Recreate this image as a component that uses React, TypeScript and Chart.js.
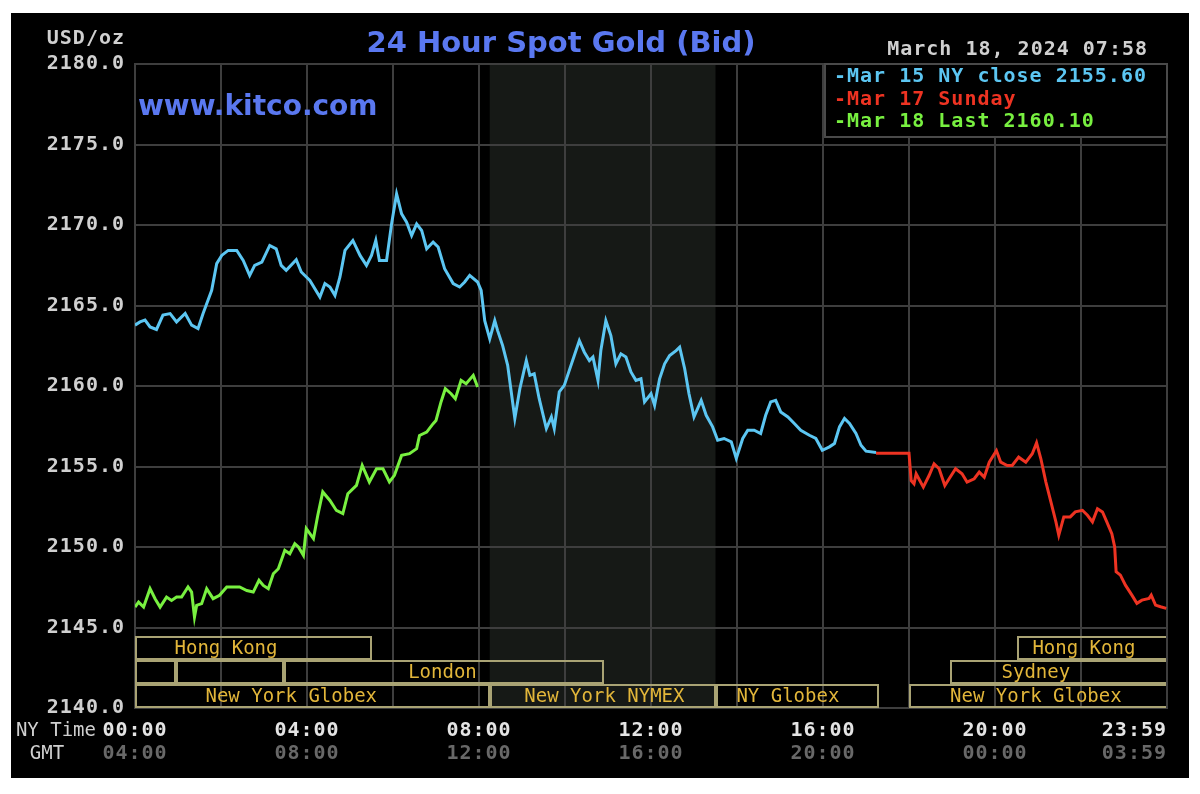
import React, { useEffect, useRef } from 'react';
import { Chart, registerables } from 'chart.js';

Chart.register(...registerables);

// ---- Data (time in minutes after 00:00 NY time, price in USD/oz) ----
const blueMinutes = [
  0, 7, 14, 21, 30, 39, 49, 58, 70, 79, 88, 95, 107, 114, 121, 130, 142, 151, 160, 167,
  177, 188, 197, 204, 211, 225, 232, 244, 258, 265, 272, 279, 286, 293, 304, 314, 323, 330, 336, 341,
  351, 358, 365, 372, 379, 386, 393, 400, 407, 416, 423, 432, 444, 453, 460, 467, 478, 483, 488, 495,
  502, 506, 513, 520, 525, 530, 537, 546, 551, 557, 564, 574, 581, 585, 592, 599, 606, 613, 620, 627,
  634, 639, 646, 650, 657, 664, 671, 678, 685, 692, 699, 706, 711, 720, 725, 732, 739, 746, 755, 760,
  767, 773, 780, 790, 797, 806, 813, 822, 832, 839, 848, 855, 864, 873, 880, 887, 894, 901, 911, 920,
  929, 941, 950, 959, 969, 976, 983, 990, 997, 1006, 1013, 1020, 1034,
];
const blueValues = [
  2163.78, 2163.98, 2164.09, 2163.67, 2163.51, 2164.4, 2164.5, 2163.98, 2164.5, 2163.78,
  2163.57, 2164.5, 2165.94, 2167.6, 2168.11, 2168.42, 2168.42, 2167.8, 2166.87, 2167.49,
  2167.7, 2168.73, 2168.52, 2167.49, 2167.18, 2167.84, 2167.08, 2166.56, 2165.53, 2166.36,
  2166.15, 2165.63, 2166.77, 2168.42, 2169.04, 2168.11, 2167.49, 2168.11, 2169.04, 2167.8,
  2167.8, 2170.07, 2171.93, 2170.69, 2170.17, 2169.35, 2170.07, 2169.66, 2168.52, 2168.94,
  2168.63, 2167.29, 2166.36, 2166.15, 2166.46, 2166.87, 2166.46, 2165.94, 2164.06, 2162.93,
  2164.06, 2163.44, 2162.51, 2161.28, 2159.63, 2157.98, 2159.83, 2161.58, 2160.66, 2160.76,
  2159.21, 2157.36, 2158.08, 2157.36, 2159.63, 2160.04, 2160.97, 2161.89, 2162.82, 2162.1,
  2161.58, 2161.8, 2160.35, 2162.2, 2164.06, 2163.13, 2161.38, 2162.0, 2161.8, 2160.87,
  2160.35, 2160.45, 2159.01, 2159.52, 2158.8, 2160.45, 2161.38, 2161.89, 2162.2, 2162.41,
  2161.07, 2159.52, 2158.08, 2159.11, 2158.18, 2157.46, 2156.63, 2156.74, 2156.53, 2155.5,
  2156.74, 2157.25, 2157.25, 2157.05, 2158.18, 2159.01, 2159.11, 2158.39, 2158.08, 2157.67,
  2157.25, 2156.94, 2156.74, 2156.01, 2156.22, 2156.43, 2157.46, 2157.98, 2157.67, 2157.05,
  2156.32, 2155.95, 2155.87,
];

const redMinutes = [
  1034, 1080, 1083, 1087, 1090, 1095, 1100, 1108, 1115, 1122, 1130, 1136, 1145, 1154, 1161,
  1171, 1178, 1185, 1192, 1202, 1208, 1217, 1224, 1233, 1243, 1252, 1258, 1264, 1271, 1278,
  1285, 1289, 1296, 1305, 1312, 1322, 1329, 1336, 1343, 1350, 1356, 1363, 1367, 1369, 1375,
  1382, 1391, 1398, 1405, 1415, 1418, 1424, 1431, 1439,
];
const redValues = [
  2155.83, 2155.83, 2154.13, 2153.93, 2154.55, 2154.13, 2153.72, 2154.44, 2155.17, 2154.86,
  2153.82, 2154.24, 2154.86, 2154.55, 2154.03, 2154.24, 2154.65, 2154.34, 2155.27, 2155.99,
  2155.27, 2155.06, 2155.06, 2155.58, 2155.27, 2155.79, 2156.47, 2155.48, 2154.03, 2152.8,
  2151.56, 2150.73, 2151.87, 2151.87, 2152.18, 2152.28, 2151.97, 2151.56, 2152.38, 2152.18,
  2151.56, 2150.83, 2150.01, 2148.46, 2148.25, 2147.63, 2147.01, 2146.5, 2146.7, 2146.81,
  2147.01, 2146.39, 2146.29, 2146.19,
];

const greenMinutes = [
  0, 5, 12, 21, 28, 35, 44, 51, 58, 65, 74, 79, 83, 86, 93, 100, 109, 118, 128, 137,
  146, 156, 165, 173, 179, 186, 193, 200, 209, 216, 223, 228, 235, 239, 249, 255, 262, 272, 281, 290,
  297, 309, 317, 327, 337, 346, 355, 362, 372, 383, 393, 397, 407, 416, 420, 427, 433, 441, 447, 455,
  462, 472, 478,
];
const greenValues = [
  2146.27, 2146.58, 2146.27, 2147.41, 2146.79, 2146.27, 2146.89, 2146.68, 2146.89, 2146.89,
  2147.52, 2147.2, 2145.65, 2146.37, 2146.48, 2147.41, 2146.79, 2147.0, 2147.52, 2147.52,
  2147.52, 2147.3, 2147.2, 2147.93, 2147.61, 2147.41, 2148.34, 2148.65, 2149.79, 2149.58,
  2150.2, 2150.0, 2149.48, 2151.14, 2150.52, 2151.96, 2153.42, 2152.89, 2152.27, 2152.07,
  2153.31, 2153.83, 2155.07, 2154.04, 2154.86, 2154.86, 2154.04, 2154.45, 2155.69, 2155.8,
  2156.11, 2156.93, 2157.14, 2157.66, 2157.86, 2159.01, 2159.83, 2159.52, 2159.21, 2160.35,
  2160.14, 2160.66, 2159.94,
];

const seriesColors = ['#5cc6f2', '#ee3322', '#78f040'];
const legendTexts = ['-Mar 15 NY close 2155.60', '-Mar 17 Sunday', '-Mar 18 Last 2160.10'];

const titleText = '24 Hour Spot Gold (Bid)';
const siteText = 'www.kitco.com';
const dateText = 'March 18, 2024 07:58';
const unitText = 'USD/oz';

const yMin = 2140;
const yMax = 2180;
const yStep = 5;

const timeLabelMinutes = [0, 240, 480, 720, 960, 1200, 1440];
const nyTimeLabels = ['00:00', '04:00', '08:00', '12:00', '16:00', '20:00', '23:59'];
const gmtLabels = ['04:00', '08:00', '12:00', '16:00', '20:00', '00:00', '03:59'];

// NYMEX trading hours shaded band (minutes)
const shadeStart = 495;
const shadeEnd = 810;

// market session boxes
const sessionRowTops = [2144.5, 2143.0, 2141.5];
const sessionRowBottoms = [2143.0, 2141.5, 2140.0];
const sessionRows = [0, 0, 1, 1, 1, 1, 2, 2, 2, 2];
const sessionStarts = [0, 1230, 0, 57, 208, 1137, 0, 495, 810, 1080];
const sessionEnds = [330, 1440, 57, 208, 655, 1440, 495, 810, 1038, 1440];
const sessionLabels = ['Hong Kong', 'Hong Kong', '', '', 'London', 'Sydney', 'New York Globex', 'New York NYMEX', 'NY Globex', 'New York Globex'];
const sessionLabelAt = [127, 1324, 0, 0, 429, 1257, 218, 655, 911, 1257];

const GRID = '#3e3e3e';
const MONO = '"DejaVu Sans Mono", "Liberation Mono", monospace';
const SANS = '"DejaVu Sans", "Liberation Sans", sans-serif';

const kitcoPlugin = {
  id: 'kitcoDecor',
  beforeDraw(chart: any) {
    const { ctx, chartArea, scales } = chart;
    ctx.save();
    ctx.fillStyle = '#000000';
    ctx.fillRect(0, 0, chart.width, chart.height);
    const x1 = scales.x.getPixelForValue(shadeStart);
    const x2 = scales.x.getPixelForValue(shadeEnd);
    ctx.fillStyle = '#161916';
    ctx.fillRect(x1, chartArea.top, x2 - x1, chartArea.bottom - chartArea.top);
    ctx.restore();
    try { (ctx as any).letterSpacing = '1px'; } catch (e) { /* ignore */ }
  },
  afterDraw(chart: any) {
    const { ctx, chartArea, scales } = chart;
    const xs = scales.x;
    const ys = scales.y;
    ctx.save();

    // session boxes
    ctx.lineWidth = 2;
    for (let i = 0; i < sessionRows.length; i++) {
      const r = sessionRows[i];
      const top = Math.round(ys.getPixelForValue(sessionRowTops[r])) + 1;
      const bot = Math.round(ys.getPixelForValue(sessionRowBottoms[r])) - 1;
      const left = Math.round(xs.getPixelForValue(sessionStarts[i])) + 1;
      const right = Math.round(xs.getPixelForValue(sessionEnds[i])) - 1;
      ctx.strokeStyle = '#a9a374';
      ctx.beginPath();
      if (sessionEnds[i] >= 1440) {
        ctx.moveTo(right, top);
        ctx.lineTo(left, top);
        ctx.lineTo(left, bot);
        ctx.lineTo(right, bot);
      } else {
        ctx.rect(left, top, right - left, bot - top);
      }
      ctx.stroke();
      if (sessionLabels[i]) {
        (ctx as any).letterSpacing = '0px';
        ctx.font = '19px ' + MONO;
        ctx.fillStyle = '#e2b63a';
        ctx.textAlign = 'center';
        ctx.textBaseline = 'middle';
        ctx.fillText(sessionLabels[i], xs.getPixelForValue(sessionLabelAt[i]), (top + bot) / 2 + 1);
      }
    }

    // legend box
    const lx = 814, ly = chartArea.top, lw = chartArea.right - 814, lh = 73;
    ctx.fillStyle = '#000000';
    ctx.fillRect(lx, ly, lw, lh);
    ctx.strokeStyle = '#4a4a4a';
    ctx.lineWidth = 2;
    ctx.strokeRect(lx, ly, lw, lh);
    (ctx as any).letterSpacing = '1px';
    ctx.font = 'bold 20px ' + MONO;
    ctx.textAlign = 'left';
    ctx.textBaseline = 'middle';
    for (let i = 0; i < legendTexts.length; i++) {
      ctx.fillStyle = seriesColors[i];
      ctx.fillText(legendTexts[i], 823, ly + 13 + i * 22.5);
    }

    // unit and date
    ctx.fillStyle = '#d0d0d0';
    ctx.textAlign = 'right';
    ctx.fillText(unitText, chartArea.left - 10, 26);
    ctx.fillText(dateText, 1137, 37);

    // x labels
    for (let i = 0; i < timeLabelMinutes.length; i++) {
      const px = xs.getPixelForValue(timeLabelMinutes[i]);
      const last = i === timeLabelMinutes.length - 1;
      ctx.textAlign = last ? 'right' : 'center';
      const tx = last ? chartArea.right : px;
      ctx.fillStyle = '#e4e4e4';
      ctx.fillText(nyTimeLabels[i], tx, chartArea.bottom + 23);
      ctx.fillStyle = '#686868';
      ctx.fillText(gmtLabels[i], tx, chartArea.bottom + 46);
    }
    (ctx as any).letterSpacing = '0px';
    ctx.font = '19px ' + MONO;
    ctx.fillStyle = '#cfcfcf';
    ctx.textAlign = 'right';
    ctx.fillText('NY Time', 85, chartArea.bottom + 23);
    ctx.textAlign = 'center';
    ctx.fillText('GMT', 36, chartArea.bottom + 46);

    // title and site
    ctx.fillStyle = '#5a78f0';
    ctx.font = 'bold 29px ' + SANS;
    ctx.textAlign = 'center';
    ctx.textBaseline = 'alphabetic';
    ctx.fillText(titleText, 550, 39);
    ctx.font = 'bold 28px ' + SANS;
    ctx.textAlign = 'left';
    ctx.fillText(siteText, 127, 102);

    ctx.restore();
  },
};

function toPoints(xs: number[], vs: number[]) {
  return xs.map((m, i) => ({ x: m, y: vs[i] }));
}

export default function App() {
  const canvasRef = useRef<HTMLCanvasElement | null>(null);

  useEffect(() => {
    const canvas = canvasRef.current;
    if (!canvas) return;
    const gridOpts = { color: GRID, lineWidth: 2, drawTicks: false };
    const chart = new Chart(canvas, {
      type: 'line',
      data: {
        datasets: [
          { label: 'Mar 15', data: toPoints(blueMinutes, blueValues), borderColor: seriesColors[0], backgroundColor: seriesColors[0] },
          { label: 'Mar 17', data: toPoints(redMinutes, redValues), borderColor: seriesColors[1], backgroundColor: seriesColors[1] },
          { label: 'Mar 18', data: toPoints(greenMinutes, greenValues), borderColor: seriesColors[2], backgroundColor: seriesColors[2] },
        ],
      },
      options: {
        responsive: false,
        animation: false,
        devicePixelRatio: 1,
        layout: { padding: { left: 10, right: 22, top: 51, bottom: 70 } },
        plugins: { legend: { display: false }, tooltip: { enabled: false }, title: { display: false } },
        elements: { point: { radius: 0 }, line: { tension: 0, borderWidth: 3 } },
        scales: {
          x: {
            type: 'linear',
            min: 0,
            max: 1440,
            ticks: { display: false, stepSize: 120, maxTicksLimit: 30 },
            grid: gridOpts,
            border: { color: GRID, width: 2 },
          },
          y: {
            type: 'linear',
            min: yMin,
            max: yMax,
            ticks: {
              stepSize: yStep,
              padding: 10,
              color: '#d0d0d0',
              font: { family: MONO, weight: 'bold', size: 20 },
              callback: (v: any) => Number(v).toFixed(1),
            },
            grid: gridOpts,
            border: { color: GRID, width: 2 },
            afterFit: (s: any) => { s.width = 114; },
          },
        },
      } as any,
      plugins: [kitcoPlugin],
    });
    return () => chart.destroy();
  }, []);

  return (
    <div style={{ position: 'absolute', left: 11, top: 13, width: 1178, height: 765, background: '#000' }}>
      <canvas ref={canvasRef} width={1178} height={765} style={{ width: 1178, height: 765, display: 'block' }} />
    </div>
  );
}
